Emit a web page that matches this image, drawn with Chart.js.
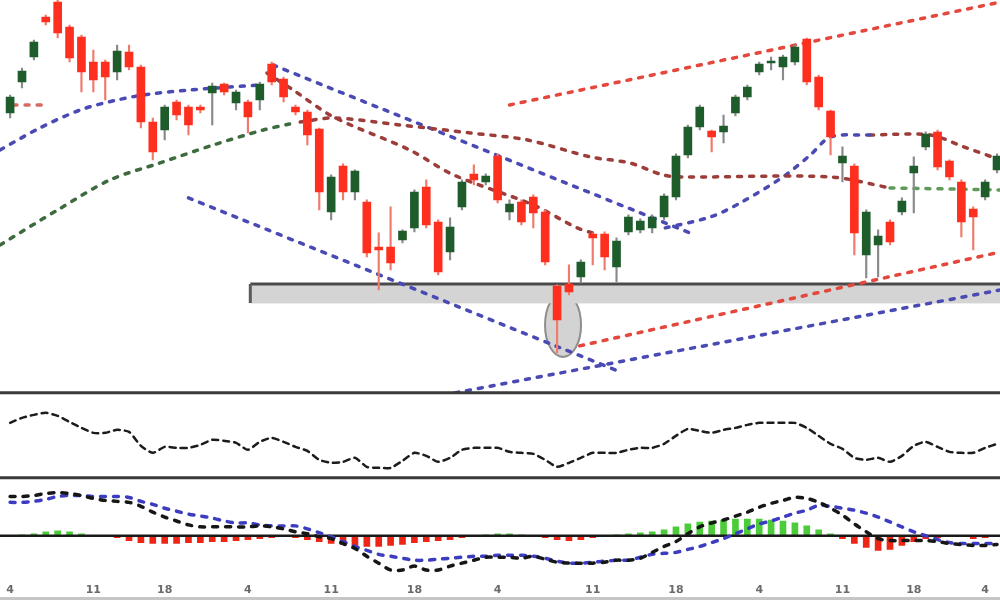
<!DOCTYPE html>
<html>
<head>
<meta charset="utf-8">
<script src="https://cdn.jsdelivr.net/npm/chart.js@4/dist/chart.umd.min.js"></script>
<style>
  html, body { margin: 0; padding: 0; background: #fff; }
  #wrap { width: 1000px; height: 600px; }
</style>
</head>
<body>
<div id="wrap"><canvas id="chart" width="1000" height="600"></canvas></div>
<script>
// candles (price panel)
const opens  = [287,318,343,382,397,372,362,337,337,328, 347,332,277,270,297,292,292,307,315,297, 297,300,335,320,292,287,270,188,233,208, 197,152,152,160,172,212,177,148,193,225, 218,243,188,197,202,187,113,115,123,165, 165,133,168,170,172,183,203,245,273,268, 268,287,303,328,337,333,338,360,322,288, 237,233,145,155,177,188,227,253,267,238, 217,190,203,230];
const closes = [302,328,357,378,367,342,328,320,323,348, 333,278,248,292,285,275,290,313,308,307, 283,315,318,303,288,265,208,222,208,228, 147,150,137,168,207,175,128,172,217,220, 223,200,195,178,187,138,80,108,137,162, 143,158,182,178,182,203,243,272,292,263, 273,302,312,335,338,342,352,318,293,263, 243,167,187,163,158,198,233,265,233,223, 178,183,217,243];
const highs  = [305,332,360,385,400,375,365,350,340,355, 355,335,282,295,300,295,295,317,317,310, 300,318,338,323,295,290,272,225,236,230, 200,167,193,170,210,220,180,182,220,235, 226,246,200,200,205,190,115,135,140,167, 168,162,185,181,185,206,246,275,295,270, 285,305,315,338,343,345,355,362,325,290, 253,236,190,170,180,202,243,268,270,240, 220,193,220,246];
const lows   = [282,312,340,375,362,338,308,308,300,320, 330,272,240,260,280,265,287,275,305,290, 267,290,315,298,285,255,190,180,200,200, 143,110,130,157,168,172,125,140,190,215, 215,197,180,175,172,135,47,105,117,135, 130,118,165,167,167,180,200,242,270,248, 257,284,300,325,330,320,335,315,290,245, 218,145,122,123,155,185,187,250,230,220, 163,150,200,227];

// oscillator panel
const osc = [55,60,63,65,62,56,50,45,45,48, 46,32,25,31,30,30,33,38,37,35, 28,36,40,36,31,27,18,15,16,20, 11,10,10,17,25,22,16,20,28,30, 30,30,26,25,24,18,11,15,20,25, 25,25,28,30,30,34,42,49,47,45, 48,50,53,55,55,55,55,50,42,34, 29,20,18,20,16,22,32,36,31,26, 25,25,30,34];

// MACD panel
const macd = [40,40,41,43,44,43,41,38,36,35, 34,30,24,19,15,11,9,9,9,9, 9,10,9,7,4,2,-1,-3,-8,-13, -21,-28,-35,-35,-31,-35,-35,-31,-28,-25, -22,-22,-22,-23,-21,-24,-27,-28,-28,-28, -27,-25,-25,-23,-17,-11,-6,2,9,13, 16,20,24,29,33,36,39,38,34,28, 21,12,4,-3,-5,-5,-5,-5,-6,-8, -9,-10,-10,-9];
const signal = [34,34,35,37,40,41,41,40,40,40, 39,35,32,28,25,22,20,18,15,13, 13,11,10,10,10,7,3,-1,-6,-11, -15,-19,-21,-23,-25,-25,-24,-23,-22,-21, -21,-20,-20,-20,-21,-23,-26,-28,-28,-27, -26,-25,-25,-22,-19,-18,-17,-14,-11,-7, -3,2,7,12,15,19,23,26,31,30, 28,26,23,19,14,9,4,0,-4,-7, -8,-8,-8,-8];
const hist = [0,1,2,4,5,4,2,0,-1,-2, -5,-7,-8,-8,-8,-7,-7,-6,-6,-5, -4,-3,-2,-1,-2,-4,-6,-8,-9,-10, -11,-11,-10,-9,-7,-6,-5,-4,-2,0, 1,2,2,1,0,-2,-4,-5,-4,-2, 0,1,2,3,4,6,9,12,14,15, 16,17,17,17,16,15,13,10,6,2, -3,-8,-12,-15,-14,-10,-6,-3,-2,-1, -1,-3,-2,-1];

// x ticks
const xTickIdx = [0,7,13,20,27,34,41,49,56,63,70,76,82];
const xTickLabels = ['4','11','18','4','11','18','4','11','18','4','11','18','4'];

// drawn lines on the price panel: [candle index, price]
const blueMaLeft   = [[-0.84,250],[2.5,272],[5.9,290],[9,300],[11.8,306],[15.1,310],[18.5,313],[21.2,315]];
const greenMa      = [[-0.84,155],[4,190],[8.4,220],[12.6,237],[17.1,255],[21.3,270],[23.5,276]];
const brownMaMid   = [[24.4,278],[27.2,282],[32.8,275],[38.7,267],[43.5,260],[48.8,243],[52.1,237],[54.9,225],[56.6,223],[69,223],[74,212]];
const greenMaRight = [[74,212],[83.3,210]];
const brownMaFall  = [[21.6,327],[23.8,310],[27.2,283],[33.6,250],[37.3,225],[44,195],[47.7,172],[49.6,165]];
const redMaStub    = [[0.25,295],[2.8,295]];
const blueMaRight  = [[55.1,172],[58.9,183],[61.4,197],[65,223],[67.3,245],[69,263],[72.3,265]];
const redMaRight   = [[72.3,265],[77.4,265],[80.2,253],[83.3,240]];
const chanUpper    = [[22.1,335],[57.6,165]];
const chanLower    = [[15,202],[51.3,28]];
const riseUpper    = [[42,295],[83.3,398]];
const riseLower    = [[47.9,54],[83.3,148]];
const riseBase     = [[37.4,7],[83.3,110]];
const zoneTop      = [[20.2,116],[83.3,116]];
const zoneBottom   = [[20.2,97],[83.3,97]];
const zoneEdge     = [[20.2,97],[20.2,116]];
const lowMark      = [46.5, 75];
const zeroLine     = [[-1,0],[84,0]];

const xIdx = opens.map((_, i) => i);
const pts = arr => arr.map(([x, y]) => ({x, y}));
const up = xIdx.map(i => closes[i] >= opens[i]);

function dotted(data, color, order) {
    return {
        type: 'line', yAxisID: 'y', data: pts(data),
        borderColor: color, borderWidth: 3.5, borderDash: [4, 8], borderCapStyle: 'round',
        pointRadius: 0, fill: false, tension: 0.3, order: order || 5
    };
}

const panelFrame = {
    id: 'panelFrame',
    beforeDatasetsDraw(chart) {
        const {ctx, scales} = chart;
        const cx = scales.x.getPixelForValue(lowMark[0]);
        const cy = scales.y.getPixelForValue(lowMark[1]);
        ctx.save();
        ctx.beginPath();
        ctx.ellipse(cx, cy, 18, 32, 0, 0, Math.PI * 2);
        ctx.fillStyle = 'rgba(175,175,175,0.55)';
        ctx.fill();
        ctx.lineWidth = 2;
        ctx.strokeStyle = '#8e8e8e';
        ctx.stroke();
        ctx.restore();
    },
    afterDatasetsDraw(chart) {
        const {ctx, chartArea, scales} = chart;
        ctx.save();
        ctx.strokeStyle = '#3a3a3a';
        ctx.lineWidth = 3;
        [scales.yOsc.top, scales.yMacd.top].forEach(py => {
            ctx.beginPath();
            ctx.moveTo(chartArea.left, py);
            ctx.lineTo(chartArea.right, py);
            ctx.stroke();
        });
        ctx.strokeStyle = '#c6c6c6';
        ctx.beginPath();
        ctx.moveTo(0, chart.height - 1.5);
        ctx.lineTo(chart.width, chart.height - 1.5);
        ctx.stroke();
        ctx.restore();
    }
};

new Chart(document.getElementById('chart').getContext('2d'), {
    type: 'bar',
    data: {
        datasets: [
            // support zone
            { type: 'line', yAxisID: 'y', data: pts(zoneTop), borderColor: '#4a4a4a', borderWidth: 3,
              backgroundColor: '#d4d4d4', fill: '+1', pointRadius: 0, order: 30 },
            { type: 'line', yAxisID: 'y', data: pts(zoneBottom), borderColor: '#cfcfcf', borderWidth: 1,
              pointRadius: 0, fill: false, order: 31 },
            { type: 'line', yAxisID: 'y', data: pts(zoneEdge), borderColor: '#5a5a5a', borderWidth: 3,
              pointRadius: 0, fill: false, order: 29 },

            dotted(greenMa, '#3d6b3d'),
            dotted(blueMaLeft, '#4a4ab4'),
            dotted(brownMaMid, '#9c3d3a'),
            dotted(greenMaRight, '#5f9a5a'),
            dotted(brownMaFall, '#9c3d3a'),
            dotted(redMaStub, '#d86a66'),
            dotted(blueMaRight, '#4a4ab4'),
            dotted(redMaRight, '#9c3d3a'),
            dotted(chanUpper, '#4a4ab4'),
            dotted(chanLower, '#4a4ab4'),
            dotted(riseUpper, '#e4473c'),
            dotted(riseLower, '#e4473c'),
            dotted(riseBase, '#4a4ab4'),

            // candles
            { type: 'bar', yAxisID: 'y', grouped: false, barThickness: 1.5, order: 2,
              data: xIdx.map(i => ({x: i, y: [lows[i], highs[i]]})),
              backgroundColor: up.map(u => u ? '#8a8a8a' : '#f07a6c') },
            { type: 'bar', yAxisID: 'y', grouped: false, barThickness: 8, order: 1,
              data: xIdx.map(i => ({x: i, y: [Math.min(opens[i], closes[i]), Math.max(opens[i], closes[i]) + 0.8]})),
              backgroundColor: up.map(u => u ? '#1e5c2c' : '#ff2f1f') },

            // oscillator
            { type: 'line', yAxisID: 'yOsc', data: xIdx.map(i => ({x: i, y: osc[i]})),
              borderColor: '#1c1c1c', borderWidth: 2.5, borderDash: [6, 5], borderCapStyle: 'round',
              pointRadius: 0, fill: false, tension: 0.2, order: 3 },

            // MACD
            { type: 'bar', yAxisID: 'yMacd', grouped: false, barThickness: 6, order: 6,
              data: xIdx.map(i => ({x: i, y: hist[i]})),
              backgroundColor: hist.map(v => v >= 0 ? '#4ccc3a' : '#ee2415') },
            { type: 'line', yAxisID: 'yMacd', data: pts(zeroLine), borderColor: '#1a1a1a', borderWidth: 2.5,
              pointRadius: 0, fill: false, order: 4 },
            { type: 'line', yAxisID: 'yMacd', data: xIdx.map(i => ({x: i, y: signal[i]})),
              borderColor: '#3c3cc0', borderWidth: 3.5, borderDash: [5, 8], borderCapStyle: 'round',
              pointRadius: 0, fill: false, tension: 0.3, order: 3 },
            { type: 'line', yAxisID: 'yMacd', data: xIdx.map(i => ({x: i, y: macd[i]})),
              borderColor: '#161616', borderWidth: 3.5, borderDash: [5, 8], borderCapStyle: 'round',
              pointRadius: 0, fill: false, tension: 0.3, order: 2 }
        ]
    },
    options: {
        responsive: false,
        animation: false,
        layout: { padding: 0 },
        plugins: {
            legend: { display: false },
            tooltip: { enabled: false }
        },
        scales: {
            x: {
                type: 'linear', min: -0.85, max: 83.25, offset: false,
                grid: { display: false, drawTicks: false },
                border: { display: false },
                afterBuildTicks: axis => { axis.ticks = xTickIdx.map(v => ({value: v})); },
                ticks: {
                    autoSkip: false, maxRotation: 0, padding: 3,
                    color: '#6a6a6a',
                    font: { family: 'DejaVu Sans', size: 11, weight: 'bold' },
                    callback: (value, index) => xTickLabels[index]
                }
            },
            y:     { display: false, position: 'left', stack: 'panels', stackWeight: 393, weight: 3, min: 7, max: 400 },
            yOsc:  { display: false, position: 'left', stack: 'panels', stackWeight: 85, weight: 2, min: 0, max: 85 },
            yMacd: { display: false, position: 'left', stack: 'panels', stackWeight: 103, weight: 1, min: -46, max: 59 }
        }
    },
    plugins: [panelFrame]
});
</script>
</body>
</html>
